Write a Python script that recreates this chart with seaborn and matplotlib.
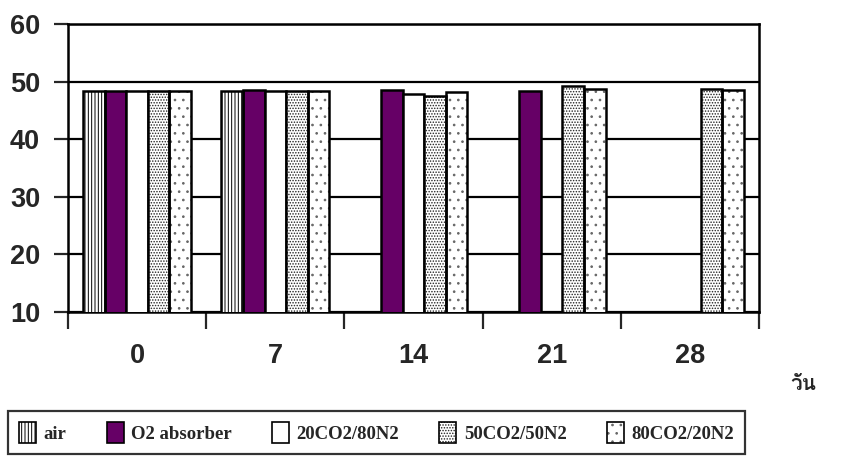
import numpy as np
import pandas as pd
import matplotlib
matplotlib.use("Agg")
import matplotlib.pyplot as plt
import seaborn as sns
from matplotlib import font_manager
from matplotlib.ft2font import FT2Font
from matplotlib.patches import Patch, Rectangle

nan = np.nan

# Storage day (x categories) and gas treatments (hue levels)
days = ["0", "7", "14", "21", "28"]
treatments = ["air", "O2 absorber", "20CO2/80N2", "50CO2/50N2", "80CO2/20N2"]

# Measured values per treatment, one per storage day (nan = no sample)
air = [48.4, 48.4, nan, nan, nan]
o2_absorber = [48.4, 48.6, 48.5, 48.4, nan]
co2_20_n2_80 = [48.4, 48.4, 47.9, nan, nan]
co2_50_n2_50 = [48.4, 48.4, 47.5, 49.3, 48.7]
co2_80_n2_20 = [48.4, 48.4, 48.2, 48.8, 48.6]

y_ticks = [10, 20, 30, 40, 50, 60]
x_axis_label = "วัน"

series = [air, o2_absorber, co2_20_n2_80, co2_50_n2_50, co2_80_n2_20]
rows = []
for name, vals in zip(treatments, series):
    for d, v in zip(days, vals):
        if not np.isnan(v):
            rows.append({"day": d, "treatment": name, "value": v})
df = pd.DataFrame(rows)

# Fill style per treatment: face colour, hatch pattern, hatch colour
faces = {"air": "white", "O2 absorber": "#660066", "20CO2/80N2": "white",
         "50CO2/50N2": "white", "80CO2/20N2": "white"}
hatches = {"air": "|||||", "O2 absorber": "", "20CO2/80N2": "",
           "50CO2/50N2": "......", "80CO2/20N2": ".."}
hatch_colors = {"air": "black", "O2 absorber": "black", "20CO2/80N2": "black",
                "50CO2/50N2": "#222222", "80CO2/20N2": "#666666"}


def find_thai_family():
    for f in font_manager.fontManager.ttflist:
        try:
            if 0x0E27 in FT2Font(f.fname).get_charmap():
                return f.name
        except Exception:
            continue
    return "DejaVu Sans"


sns.set_style("white")
plt.rcParams["font.family"] = ["Liberation Sans", "DejaVu Sans"]
plt.rcParams["hatch.linewidth"] = 0.7
thai_family = find_thai_family()

W, H = 843, 461
fig = plt.figure(figsize=(W / 100, H / 100), dpi=100)
ax = fig.add_axes([68 / W, 1 - 312 / H, (759 - 68) / W, (312 - 24) / H])

sns.barplot(data=df, x="day", y="value", hue="treatment",
            order=days, hue_order=treatments, errorbar=None, width=0.78,
            palette=faces, edgecolor="black", linewidth=1.8, legend=False,
            saturation=1, ax=ax, zorder=3)

# Hatch each bar in its own colour, then outline it in black
edge_lw = 1.8
for cont, name in zip(ax.containers, treatments):
    for bar in cont:
        bar.set_facecolor(faces[name])
        if hatches[name]:
            bar.set_hatch(hatches[name])
            bar.set_edgecolor(hatch_colors[name])
            bar.set_linewidth(0)
            ax.add_patch(Rectangle(bar.get_xy(), bar.get_width(), bar.get_height(),
                                   fill=False, edgecolor="black", linewidth=edge_lw,
                                   zorder=4))
        else:
            bar.set_edgecolor("black")
            bar.set_linewidth(edge_lw)

ax.set_ylim(10, 60)
ax.set_xlim(-0.5, len(days) - 0.5)
ax.set_yticks(y_ticks)
ax.yaxis.grid(True, color="black", linewidth=1.6, zorder=0)
ax.set_axisbelow(True)
for s in ax.spines.values():
    s.set_visible(True)
    s.set_color("black")
    s.set_linewidth(1.8)

ax.set_xlabel("")
ax.set_ylabel("")
ax.tick_params(axis="y", which="major", direction="out", length=10, width=1.6,
               left=True, pad=10, labelsize=19.5)
ax.set_xticks(range(len(days)))
ax.set_xticklabels(days)
ax.tick_params(axis="x", which="major", length=0, pad=22, labelsize=19.5)
ax.set_xticks(np.arange(-0.5, len(days), 1.0), minor=True)
ax.tick_params(axis="x", which="minor", direction="out", length=12, width=1.6, bottom=True)
for lab in ax.get_xticklabels() + ax.get_yticklabels():
    lab.set_fontweight("bold")

fig.text(790 / W, 1 - 384 / H, x_axis_label, fontsize=15, fontweight="bold",
         family=[thai_family, "DejaVu Sans"], va="center", ha="left")

handles = []
for n in treatments:
    if hatches[n]:
        handles.append((Patch(facecolor=faces[n], edgecolor=hatch_colors[n],
                              hatch=hatches[n], linewidth=0),
                        Patch(fill=False, edgecolor="black", linewidth=1.2)))
    else:
        handles.append(Patch(facecolor=faces[n], edgecolor="black", linewidth=1.2))

leg_left, leg_top, leg_right, leg_bottom = 8, 411, 745, 455
leg = fig.legend(handles, treatments, loc="upper left",
                 bbox_to_anchor=(leg_left / W, 1 - leg_bottom / H,
                                 (leg_right - leg_left) / W, (leg_bottom - leg_top) / H),
                 mode="expand", ncol=5, frameon=True, borderaxespad=0,
                 fancybox=False, edgecolor="black", handlelength=0.9, handleheight=1.3,
                 handletextpad=0.4, columnspacing=1.0, borderpad=0.6,
                 prop={"family": ["Liberation Serif"], "weight": "bold", "size": 13.5})
leg.get_frame().set_linewidth(1.6)

fig.savefig("out.png", dpi=100, facecolor="white")
